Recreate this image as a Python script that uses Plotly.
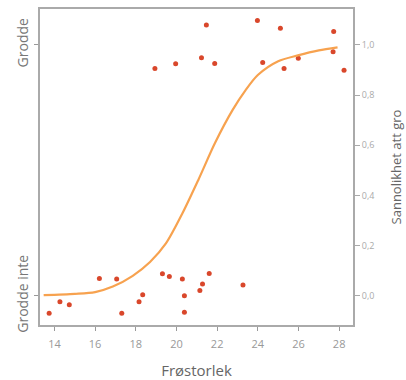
import plotly.graph_objects as go

# Seed size (x) and germination outcome with vertical jitter (y)
seed_size = [18.94, 19.96, 21.23, 21.47, 21.88, 23.98, 24.24, 25.11, 25.29, 25.99, 27.73, 27.70, 28.24,
             13.74, 14.27, 14.73, 16.21, 17.06, 17.31, 18.16, 18.34, 19.31, 19.65, 20.29, 20.39, 20.39,
             21.15, 21.28, 21.61, 23.27]
outcome = [0.906, 0.925, 0.949, 1.079, 0.926, 1.097, 0.930, 1.066, 0.906, 0.947, 1.053, 0.973, 0.899,
           -0.069, -0.023, -0.035, 0.069, 0.067, -0.069, -0.023, 0.005, 0.088, 0.077, 0.067, 0.001, -0.065,
           0.021, 0.047, 0.089, 0.043]

# Fitted probability curve
curve_x = [13.47, 15.0, 16.0, 16.87, 17.85, 18.7, 19.49, 20.3, 21.08, 21.9, 22.77, 23.4, 24.0, 25.0, 25.97, 27.0, 27.92]
curve_y = [0.003, 0.008, 0.015, 0.037, 0.08, 0.135, 0.21, 0.33, 0.463, 0.61, 0.742, 0.82, 0.88, 0.935, 0.958, 0.978, 0.99]

x_ticks = [14, 16, 18, 20, 22, 24, 26, 28]
left_vals = [0, 1]
left_text = ["Grodde inte", "Grodde"]
right_vals = [0, 0.2, 0.4, 0.6, 0.8, 1.0]
right_text = ["0,0", "0,2", "0,4", "0,6", "0,8", "1,0"]

FONT = "Open Sans"
yr = [-0.116, 1.143]

fig = go.Figure()
fig.add_trace(go.Scatter(x=seed_size, y=outcome, mode="markers",
                         marker=dict(color="#d9472b", size=5), yaxis="y", showlegend=False,
                         hoverinfo="skip"))
fig.add_trace(go.Scatter(x=curve_x, y=curve_y, mode="lines",
                         line=dict(color="#f7a24f", width=2.2, shape="spline", smoothing=0.8),
                         yaxis="y2", showlegend=False, hoverinfo="skip"))

fig.update_layout(
    width=406, height=380,
    margin=dict(l=40, r=53, t=9, b=55, autoexpand=False),
    paper_bgcolor="white", plot_bgcolor="white",
    font=dict(family=FONT, color="#777"),
    xaxis=dict(range=[13.29, 28.68], tickvals=x_ticks, ticks="outside", ticklen=4, tickcolor="#999",
               ticklabelstandoff=4,
               tickfont=dict(size=11, color="#999"), showgrid=False, zeroline=False, automargin=False,
               showline=True, linecolor="#aaa", linewidth=2, mirror=True,
               title=dict(text="Frøstorlek", font=dict(size=15, color="#666"), standoff=16)),
    yaxis=dict(range=yr, tickvals=left_vals, ticktext=left_text, tickangle=-90, automargin=False,
               ticks="outside", ticklen=4, tickcolor="#999",
               tickfont=dict(size=14, color="#777"), showgrid=False, zeroline=False,
               showline=True, linecolor="#aaa", linewidth=2),
    yaxis2=dict(range=yr, overlaying="y", side="right", tickvals=right_vals, ticktext=right_text,
                ticks="outside", ticklen=5, tickcolor="#aaa", automargin=False,
                tickfont=dict(size=9, color="#aaa"), showgrid=False, zeroline=False,
                showline=True, linecolor="#aaa", linewidth=2,
                title=dict(text="Sannolikhet att gro", font=dict(size=13, color="#666"), standoff=18)),
)

fig.write_html("out.html", config={"displayModeBar": False},
               post_script="document.body.style.margin='0px';")
